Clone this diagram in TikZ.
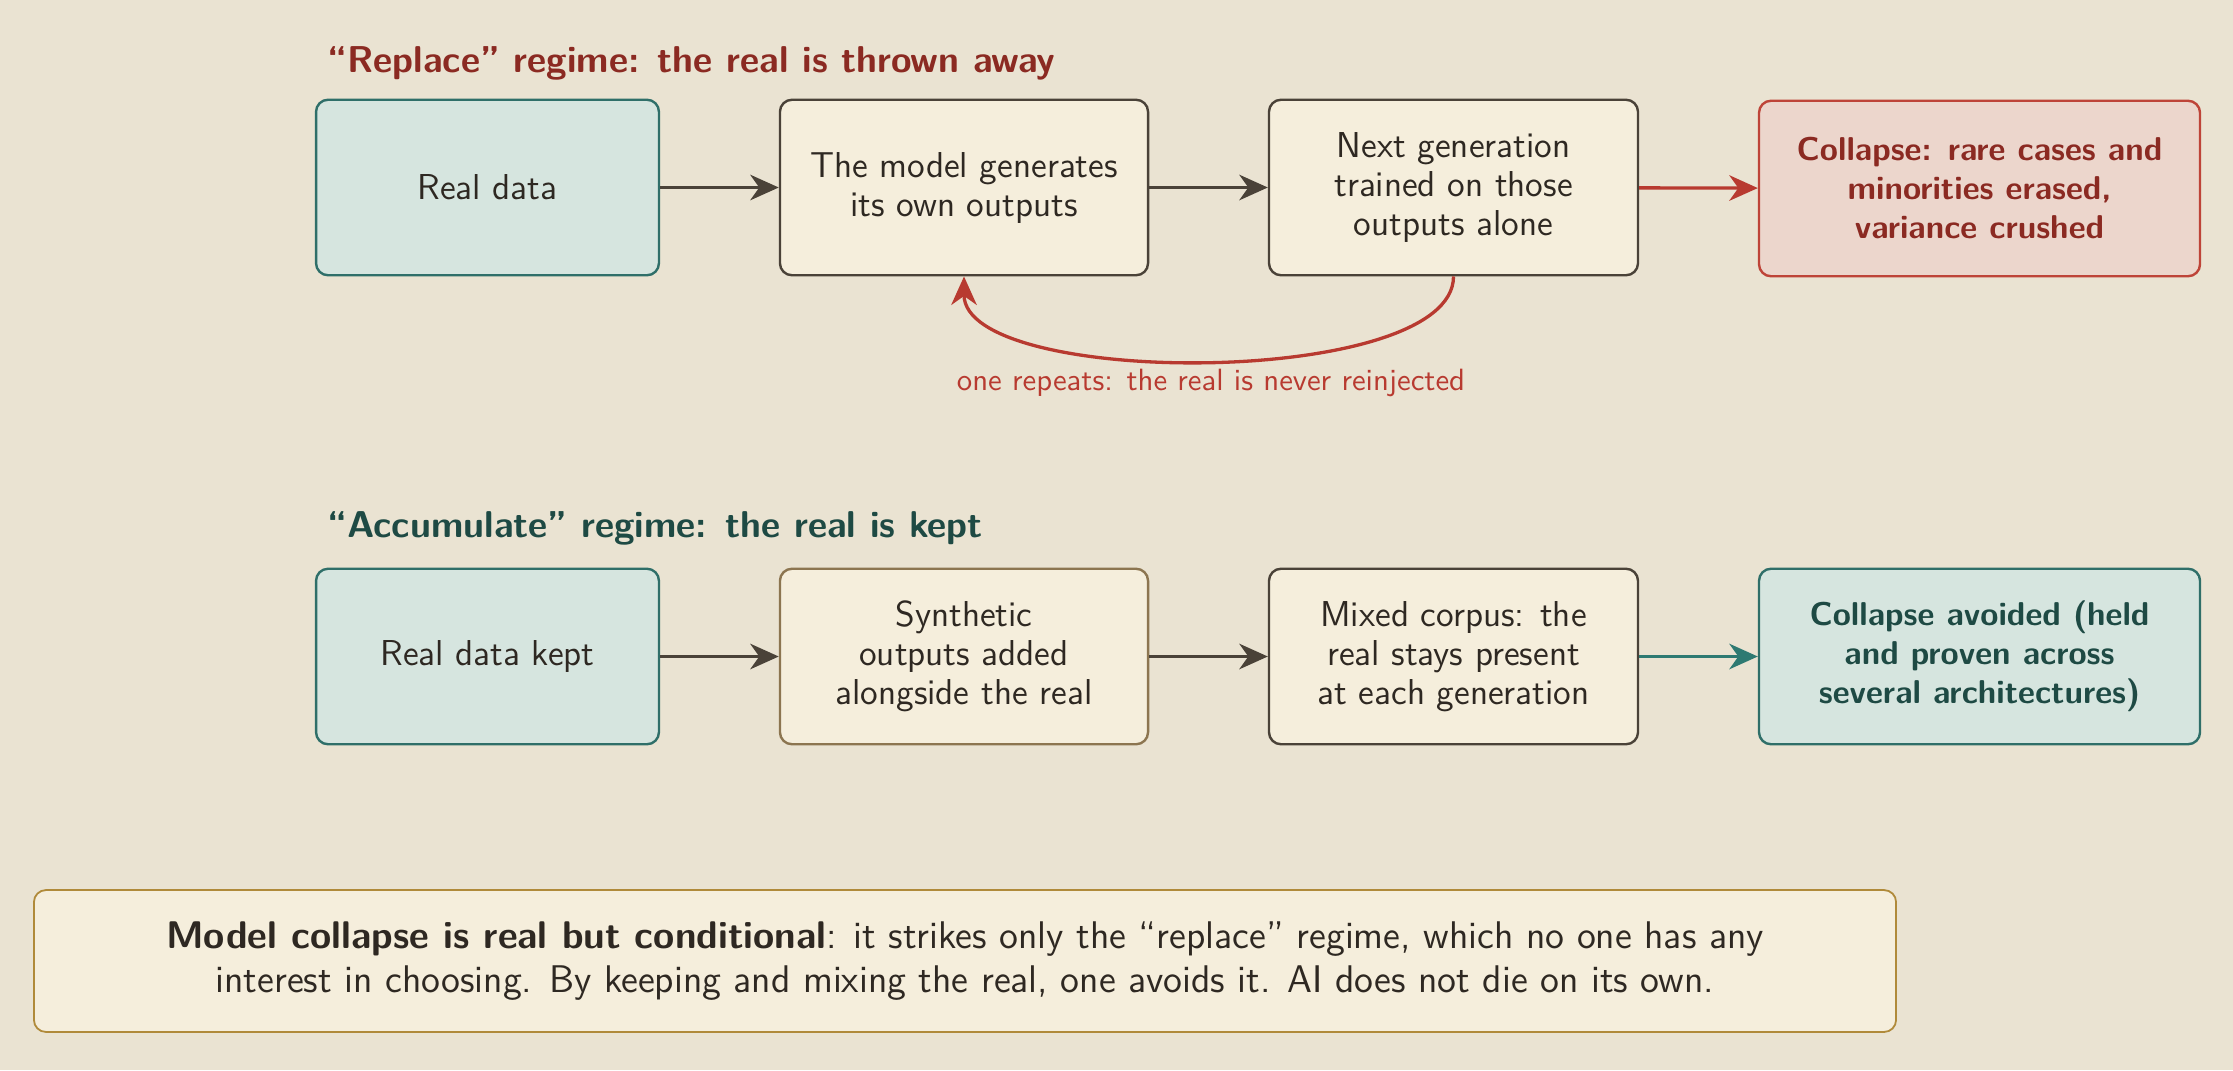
\documentclass[tikz,border=0pt]{standalone}
\usetikzlibrary{arrows.meta}
\renewcommand{\familydefault}{\sfdefault}
\definecolor{bgc}{HTML}{EAE3D2}
\definecolor{tealfill}{HTML}{D6E5DF}
\definecolor{tealline}{HTML}{2F6F69}
\definecolor{creamfill}{HTML}{F5EEDC}
\definecolor{darkline}{HTML}{4A4238}
\definecolor{goldline}{HTML}{8C7550}
\definecolor{redfill}{HTML}{ECD6CC}
\definecolor{redline}{HTML}{BE4438}
\definecolor{redtext}{HTML}{8B2A22}
\definecolor{tealtext}{HTML}{1E4A44}
\definecolor{notefill}{HTML}{F5EEDC}
\definecolor{noteline}{HTML}{B08A3A}
\definecolor{textc}{HTML}{2E2822}
\definecolor{redarrow}{HTML}{B83A30}
\definecolor{tealarrow}{HTML}{2E7A72}
\tikzset{
  tip/.style={-{Stealth[length=9.5pt,width=8.5pt,inset=3pt]}},
  boxbase/.style={rounded corners=4pt, line width=0.8pt, align=center, inner sep=0pt,
    minimum height=58.5pt, font=\fontsize{12}{13}\selectfont, text=textc},
  realbox/.style={boxbase, draw=tealline, fill=tealfill},
  procbox/.style={boxbase, draw=darkline, fill=creamfill},
  synthbox/.style={boxbase, draw=goldline, fill=creamfill},
  badbox/.style={boxbase, draw=redline, fill=redfill, text=redtext, font=\fontsize{11}{13}\selectfont\bfseries},
  goodbox/.style={boxbase, draw=tealline, fill=tealfill, text=tealtext, font=\fontsize{11}{13}\selectfont\bfseries},
  titletext/.style={anchor=west, inner sep=0pt, font=\fontsize{12.45}{14}\selectfont\bfseries},
  flow/.style={line width=1.1pt, draw=darkline, tip},
  wa/.style={minimum width=114.3pt},
  wb/.style={minimum width=122.7pt},
  wc/.style={minimum width=123pt},
  wd/.style={minimum width=147pt},
}
\begin{document}
\begin{tikzpicture}[x=0.33333pt, y=-0.33333pt]
\useasboundingbox (0,0) rectangle (2233,1070);
\fill[bgc] (0,0) rectangle (2233,1070);

% Row 1
\node[titletext, text=redtext] (t1) at (327,63) {“Replace” regime: the real is thrown away};
\node[realbox, wa] (a1) at (487.5,187.5) {Real data};
\node[procbox, wb] (b1) at (964,187.5) {The model generates\\its own outputs};
\node[procbox, wc] (c1) at (1453.5,187.5) {Next generation\\trained on those\\outputs alone};
\node[badbox, wd] (d1) at (1979.5,188.5) {Collapse: rare cases and\\minorities erased,\\variance crushed};
\draw[flow] (a1) -- (b1);
\draw[flow] (b1) -- (c1);
\draw[flow, draw=redarrow] (c1) -- (d1);
\draw[line width=1.1pt, draw=redarrow, tip]
  (c1.south) .. controls +(0,112) and +(0,112) .. (b1.south);
\node[font=\fontsize{10.25}{12}\selectfont, text=redarrow, inner sep=0pt] (loop) at (1211,383) {one repeats: the real is never reinjected};

% Row 2
\node[titletext, text=tealtext] (t2) at (327,528) {“Accumulate” regime: the real is kept};
\node[realbox, wa] (a2) at (487.5,656.5) {Real data kept};
\node[synthbox, wb] (b2) at (964,656.5) {Synthetic\\outputs added\\alongside the real};
\node[procbox, wc] (c2) at (1453.5,656.5) {Mixed corpus: the\\real stays present\\at each generation};
\node[goodbox, wd] (d2) at (1979.5,656.5) {Collapse avoided (held\\and proven across\\several architectures)};
\draw[flow] (a2) -- (b2);
\draw[flow] (b2) -- (c2);
\draw[flow, draw=tealarrow] (c2) -- (d2);

% Note
\node[rounded corners=4pt, line width=0.6pt, draw=noteline, fill=notefill, inner sep=0pt,
  minimum width=620.7pt, minimum height=47.3pt, align=center, text=textc,
  font=\fontsize{12.85}{14.7}\selectfont] (note) at (965,961)
  {\textbf{Model collapse is real but conditional}: it strikes only the “replace” regime, which no one has any\\interest in choosing. By keeping and mixing the real, one avoids it. AI does not die on its own.};
\end{tikzpicture}
\end{document}
